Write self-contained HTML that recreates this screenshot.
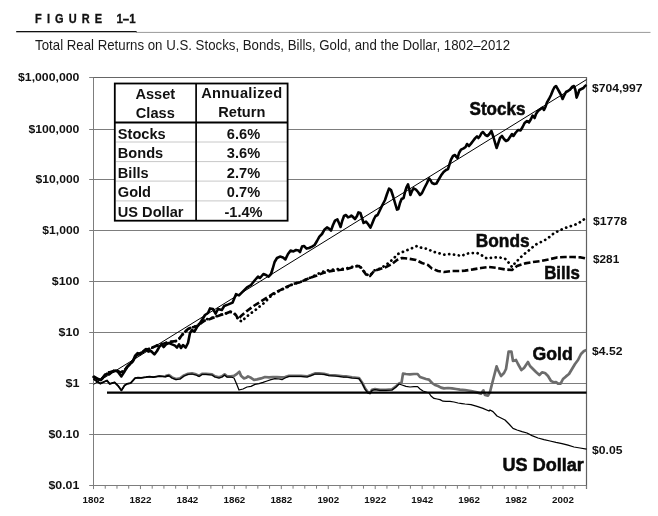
<!DOCTYPE html>
<html><head><meta charset="utf-8"><title>Figure 1-1</title>
<style>
html,body{margin:0;padding:0;background:#fff;}
body{width:658px;height:516px;overflow:hidden;position:relative;font-family:"Liberation Sans",sans-serif;}
</style></head><body>
<svg width="658" height="516" viewBox="0 0 658 516" style="position:absolute;left:0;top:0;will-change:transform;opacity:0.999;font-family:'Liberation Sans',sans-serif">
<rect width="658" height="516" fill="#fff"/>
<text transform="translate(35.1,23.1) scale(0.82,1)" font-size="13.4" font-weight="bold" fill="#111" letter-spacing="6.2" stroke="#111" stroke-width="0.35">FIGURE</text>
<text transform="translate(116.4,23.1) scale(0.82,1)" font-size="13.4" font-weight="bold" fill="#111" textLength="23.3" lengthAdjust="spacingAndGlyphs" stroke="#111" stroke-width="0.35">1–1</text>
<rect x="136" y="31.9" width="514.5" height="1" fill="#9a9a9a"/>
<rect x="16.2" y="31.0" width="120.4" height="1.3" fill="#111"/>
<text x="35.1" y="50.3" font-size="14.3" fill="#1a1a1a" textLength="475" lengthAdjust="spacingAndGlyphs">Total Real Returns on U.S. Stocks, Bonds, Bills, Gold, and the Dollar, 1802–2012</text>
<line x1="89.2" y1="77.50" x2="586.5" y2="77.50" stroke="#7d7d7d" stroke-width="1"/>
<line x1="89.2" y1="129.50" x2="586.5" y2="129.50" stroke="#7d7d7d" stroke-width="1"/>
<line x1="89.2" y1="179.50" x2="586.5" y2="179.50" stroke="#7d7d7d" stroke-width="1"/>
<line x1="89.2" y1="230.50" x2="586.5" y2="230.50" stroke="#7d7d7d" stroke-width="1"/>
<line x1="89.2" y1="281.50" x2="586.5" y2="281.50" stroke="#7d7d7d" stroke-width="1"/>
<line x1="89.2" y1="332.50" x2="586.5" y2="332.50" stroke="#7d7d7d" stroke-width="1"/>
<line x1="89.2" y1="383.50" x2="586.5" y2="383.50" stroke="#7d7d7d" stroke-width="1"/>
<line x1="89.2" y1="434.50" x2="586.5" y2="434.50" stroke="#7d7d7d" stroke-width="1"/>
<line x1="89.2" y1="485.50" x2="586.5" y2="485.50" stroke="#7d7d7d" stroke-width="1"/>
<line x1="93.5" y1="77.50" x2="93.5" y2="485.50" stroke="#7d7d7d" stroke-width="1"/>
<line x1="586.5" y1="77.00" x2="586.5" y2="489.00" stroke="#606060" stroke-width="1.2"/>
<line x1="93.5" y1="77.50" x2="587.0" y2="77.50" stroke="#666" stroke-width="1.1"/>
<line x1="93.50" y1="485.50" x2="93.50" y2="489.10" stroke="#7d7d7d" stroke-width="1"/>
<line x1="105.24" y1="485.50" x2="105.24" y2="488.70" stroke="#7d7d7d" stroke-width="1"/>
<line x1="116.98" y1="485.50" x2="116.98" y2="488.70" stroke="#7d7d7d" stroke-width="1"/>
<line x1="128.71" y1="485.50" x2="128.71" y2="488.70" stroke="#7d7d7d" stroke-width="1"/>
<line x1="140.45" y1="485.50" x2="140.45" y2="489.10" stroke="#7d7d7d" stroke-width="1"/>
<line x1="152.19" y1="485.50" x2="152.19" y2="488.70" stroke="#7d7d7d" stroke-width="1"/>
<line x1="163.93" y1="485.50" x2="163.93" y2="488.70" stroke="#7d7d7d" stroke-width="1"/>
<line x1="175.67" y1="485.50" x2="175.67" y2="488.70" stroke="#7d7d7d" stroke-width="1"/>
<line x1="187.40" y1="485.50" x2="187.40" y2="489.10" stroke="#7d7d7d" stroke-width="1"/>
<line x1="199.14" y1="485.50" x2="199.14" y2="488.70" stroke="#7d7d7d" stroke-width="1"/>
<line x1="210.88" y1="485.50" x2="210.88" y2="488.70" stroke="#7d7d7d" stroke-width="1"/>
<line x1="222.62" y1="485.50" x2="222.62" y2="488.70" stroke="#7d7d7d" stroke-width="1"/>
<line x1="234.36" y1="485.50" x2="234.36" y2="489.10" stroke="#7d7d7d" stroke-width="1"/>
<line x1="246.10" y1="485.50" x2="246.10" y2="488.70" stroke="#7d7d7d" stroke-width="1"/>
<line x1="257.83" y1="485.50" x2="257.83" y2="488.70" stroke="#7d7d7d" stroke-width="1"/>
<line x1="269.57" y1="485.50" x2="269.57" y2="488.70" stroke="#7d7d7d" stroke-width="1"/>
<line x1="281.31" y1="485.50" x2="281.31" y2="489.10" stroke="#7d7d7d" stroke-width="1"/>
<line x1="293.05" y1="485.50" x2="293.05" y2="488.70" stroke="#7d7d7d" stroke-width="1"/>
<line x1="304.79" y1="485.50" x2="304.79" y2="488.70" stroke="#7d7d7d" stroke-width="1"/>
<line x1="316.52" y1="485.50" x2="316.52" y2="488.70" stroke="#7d7d7d" stroke-width="1"/>
<line x1="328.26" y1="485.50" x2="328.26" y2="489.10" stroke="#7d7d7d" stroke-width="1"/>
<line x1="340.00" y1="485.50" x2="340.00" y2="488.70" stroke="#7d7d7d" stroke-width="1"/>
<line x1="351.74" y1="485.50" x2="351.74" y2="488.70" stroke="#7d7d7d" stroke-width="1"/>
<line x1="363.48" y1="485.50" x2="363.48" y2="488.70" stroke="#7d7d7d" stroke-width="1"/>
<line x1="375.21" y1="485.50" x2="375.21" y2="489.10" stroke="#7d7d7d" stroke-width="1"/>
<line x1="386.95" y1="485.50" x2="386.95" y2="488.70" stroke="#7d7d7d" stroke-width="1"/>
<line x1="398.69" y1="485.50" x2="398.69" y2="488.70" stroke="#7d7d7d" stroke-width="1"/>
<line x1="410.43" y1="485.50" x2="410.43" y2="488.70" stroke="#7d7d7d" stroke-width="1"/>
<line x1="422.17" y1="485.50" x2="422.17" y2="489.10" stroke="#7d7d7d" stroke-width="1"/>
<line x1="433.90" y1="485.50" x2="433.90" y2="488.70" stroke="#7d7d7d" stroke-width="1"/>
<line x1="445.64" y1="485.50" x2="445.64" y2="488.70" stroke="#7d7d7d" stroke-width="1"/>
<line x1="457.38" y1="485.50" x2="457.38" y2="488.70" stroke="#7d7d7d" stroke-width="1"/>
<line x1="469.12" y1="485.50" x2="469.12" y2="489.10" stroke="#7d7d7d" stroke-width="1"/>
<line x1="480.86" y1="485.50" x2="480.86" y2="488.70" stroke="#7d7d7d" stroke-width="1"/>
<line x1="492.60" y1="485.50" x2="492.60" y2="488.70" stroke="#7d7d7d" stroke-width="1"/>
<line x1="504.33" y1="485.50" x2="504.33" y2="488.70" stroke="#7d7d7d" stroke-width="1"/>
<line x1="516.07" y1="485.50" x2="516.07" y2="489.10" stroke="#7d7d7d" stroke-width="1"/>
<line x1="527.81" y1="485.50" x2="527.81" y2="488.70" stroke="#7d7d7d" stroke-width="1"/>
<line x1="539.55" y1="485.50" x2="539.55" y2="488.70" stroke="#7d7d7d" stroke-width="1"/>
<line x1="551.29" y1="485.50" x2="551.29" y2="488.70" stroke="#7d7d7d" stroke-width="1"/>
<line x1="563.02" y1="485.50" x2="563.02" y2="489.10" stroke="#7d7d7d" stroke-width="1"/>
<line x1="574.76" y1="485.50" x2="574.76" y2="488.70" stroke="#7d7d7d" stroke-width="1"/>
<line x1="586.50" y1="485.50" x2="586.50" y2="488.70" stroke="#7d7d7d" stroke-width="1"/>
<text x="93.5" y="503.3" font-size="9.9" font-weight="bold" text-anchor="middle" textLength="21.8" lengthAdjust="spacingAndGlyphs" fill="#111">1802</text>
<text x="140.5" y="503.3" font-size="9.9" font-weight="bold" text-anchor="middle" textLength="21.8" lengthAdjust="spacingAndGlyphs" fill="#111">1822</text>
<text x="187.4" y="503.3" font-size="9.9" font-weight="bold" text-anchor="middle" textLength="21.8" lengthAdjust="spacingAndGlyphs" fill="#111">1842</text>
<text x="234.4" y="503.3" font-size="9.9" font-weight="bold" text-anchor="middle" textLength="21.8" lengthAdjust="spacingAndGlyphs" fill="#111">1862</text>
<text x="281.3" y="503.3" font-size="9.9" font-weight="bold" text-anchor="middle" textLength="21.8" lengthAdjust="spacingAndGlyphs" fill="#111">1882</text>
<text x="328.3" y="503.3" font-size="9.9" font-weight="bold" text-anchor="middle" textLength="21.8" lengthAdjust="spacingAndGlyphs" fill="#111">1902</text>
<text x="375.2" y="503.3" font-size="9.9" font-weight="bold" text-anchor="middle" textLength="21.8" lengthAdjust="spacingAndGlyphs" fill="#111">1922</text>
<text x="422.2" y="503.3" font-size="9.9" font-weight="bold" text-anchor="middle" textLength="21.8" lengthAdjust="spacingAndGlyphs" fill="#111">1942</text>
<text x="469.1" y="503.3" font-size="9.9" font-weight="bold" text-anchor="middle" textLength="21.8" lengthAdjust="spacingAndGlyphs" fill="#111">1962</text>
<text x="516.1" y="503.3" font-size="9.9" font-weight="bold" text-anchor="middle" textLength="21.8" lengthAdjust="spacingAndGlyphs" fill="#111">1982</text>
<text x="563.0" y="503.3" font-size="9.9" font-weight="bold" text-anchor="middle" textLength="21.8" lengthAdjust="spacingAndGlyphs" fill="#111">2002</text>
<text x="18.0" y="81.2" font-size="11.6" font-weight="bold" textLength="61.4" lengthAdjust="spacingAndGlyphs" fill="#111">$1,000,000</text>
<text x="28.4" y="133.2" font-size="11.6" font-weight="bold" textLength="51.0" lengthAdjust="spacingAndGlyphs" fill="#111">$100,000</text>
<text x="35.6" y="183.2" font-size="11.6" font-weight="bold" textLength="43.8" lengthAdjust="spacingAndGlyphs" fill="#111">$10,000</text>
<text x="42.3" y="234.2" font-size="11.6" font-weight="bold" textLength="37.1" lengthAdjust="spacingAndGlyphs" fill="#111">$1,000</text>
<text x="51.8" y="285.2" font-size="11.6" font-weight="bold" textLength="27.6" lengthAdjust="spacingAndGlyphs" fill="#111">$100</text>
<text x="58.6" y="336.2" font-size="11.6" font-weight="bold" textLength="20.8" lengthAdjust="spacingAndGlyphs" fill="#111">$10</text>
<text x="65.4" y="387.2" font-size="11.6" font-weight="bold" textLength="14.0" lengthAdjust="spacingAndGlyphs" fill="#111">$1</text>
<text x="48.4" y="438.2" font-size="11.6" font-weight="bold" textLength="31.0" lengthAdjust="spacingAndGlyphs" fill="#111">$0.10</text>
<text x="48.4" y="489.2" font-size="11.6" font-weight="bold" textLength="31.0" lengthAdjust="spacingAndGlyphs" fill="#111">$0.01</text>
<path d="M165.4 376.0 L169.0 375.1 L172.0 377.4 L176.0 379.0 L180.0 378.4 L184.0 375.4 L188.0 373.8 L192.0 373.4 L196.0 374.4 L199.0 375.8 L202.0 373.8 L206.0 373.8 L212.0 374.4 L215.0 376.4 L219.0 377.4 L222.0 376.4 L224.6 374.4 L227.0 376.4 L231.0 376.4 L234.0 375.8 L237.0 373.8 L239.4 371.8 L241.0 375.8 L244.0 378.4 L246.0 377.8 L248.0 376.4 L251.0 377.8 L254.0 379.8 L257.0 379.4 L261.0 378.4 L265.0 377.0 L269.0 377.4 L273.0 377.0 L277.0 377.0 L281.0 377.4 L285.0 377.0 L289.0 375.8 L295.0 375.8 L301.0 375.8 L307.0 376.4 L311.0 375.0 L315.0 373.4 L319.0 373.4 L324.0 373.8 L329.0 375.0 L335.0 375.4 L339.0 375.8 L343.0 376.4 L346.0 376.4 L352.0 377.4 L359.0 378.0 L362.0 382.4 L365.0 388.4 L368.0 392.4 L370.0 393.0 L372.0 389.8 L375.0 389.0 L380.0 389.8 L386.0 389.8 L392.0 389.4 L396.0 386.4 L399.0 383.4 L401.6 382.4 L403.0 373.6 L406.0 374.0 L410.0 374.4 L414.0 374.0 L417.6 374.0 L420.0 377.0 L423.0 378.0 L426.0 379.0 L429.0 379.6 L432.0 383.0 L435.0 385.0 L438.0 386.0 L441.0 387.6 L444.0 388.4 L448.0 388.0 L452.0 388.4 L456.0 389.0 L460.0 389.6 L465.0 390.0 L471.0 391.0 L477.0 392.4 L481.0 393.6 L483.4 390.4 L485.0 395.0 L488.0 395.6 L490.0 392.0 L492.0 384.0 L494.6 374.0 L496.6 366.4 L498.0 370.0 L501.0 376.0 L504.0 373.0 L506.0 369.0 L507.4 360.0 L508.6 351.6 L511.4 351.6 L513.0 361.0 L516.0 360.0 L518.0 364.0 L521.4 370.0 L524.0 368.0 L526.0 365.0 L528.0 362.0 L530.0 366.0 L533.0 369.0 L536.0 372.0 L539.4 375.0 L542.0 372.4 L545.0 373.0 L548.0 376.0 L551.0 381.0 L554.0 382.4 L556.0 382.0 L558.0 383.6 L560.6 383.6 L563.0 379.0 L566.0 376.4 L569.0 374.0 L572.0 369.0 L575.0 364.0 L578.0 360.0 L581.0 354.0 L584.0 351.0 L586.6 350.0" fill="none" stroke="#6c6c6c" stroke-width="2.7" stroke-linejoin="round"/>
<path d="M93.5 379.0 L100.2 383.6 L107.0 380.5 L109.7 383.9 L114.6 382.4 L118.4 386.2 L121.4 390.4 L124.5 385.5 L126.8 383.9 L130.6 383.2 L135.1 378.2 L138.0 377.6 L141.1 377.8 L145.9 377.2 L149.6 376.6 L153.2 377.2 L159.3 376.2 L165.4 376.6 L169.0 375.7 L172.0 378.0 L176.0 379.6 L180.0 379.0 L184.0 376.0 L188.0 374.4 L192.0 374.0 L196.0 375.0 L199.0 376.4 L202.0 374.4 L206.0 374.4 L212.0 375.0 L215.0 377.0 L219.0 378.0 L222.0 377.0 L224.6 375.0 L227.0 377.0 L231.0 377.0 L234.0 378.0 L236.6 384.0 L239.0 390.0 L243.0 389.0 L247.0 387.0 L251.0 386.4 L255.0 384.4 L259.0 383.6 L263.0 382.4 L267.0 381.0 L271.0 379.6 L275.0 378.6 L279.0 379.0 L282.0 379.6 L285.0 378.0 L289.0 376.4 L295.0 376.4 L301.0 376.4 L307.0 377.0 L311.0 375.6 L315.0 374.0 L319.0 374.0 L324.0 374.4 L329.0 375.6 L335.0 376.0 L339.0 376.4 L343.0 377.0 L346.0 377.0 L352.0 378.0 L359.0 378.6 L362.0 383.0 L365.0 389.0 L368.0 393.0 L370.0 393.6 L372.0 390.4 L375.0 389.6 L380.0 390.4 L386.0 390.4 L392.0 390.0 L396.0 387.0 L399.0 384.0 L402.0 385.0 L406.0 386.4 L410.0 387.0 L414.0 386.6 L417.6 386.6 L420.0 389.0 L423.0 391.0 L426.0 392.0 L429.0 393.0 L431.0 396.0 L434.0 398.4 L437.0 399.0 L440.0 399.6 L443.0 401.2 L446.0 401.4 L450.0 401.4 L454.0 402.0 L458.0 403.0 L462.0 403.6 L465.0 404.0 L471.0 404.6 L477.0 406.4 L483.0 408.4 L489.0 411.0 L490.0 410.0 L493.0 411.6 L497.0 416.0 L501.0 418.0 L505.0 420.0 L509.0 424.0 L513.0 428.4 L517.0 430.0 L522.0 431.6 L527.0 433.0 L532.0 435.6 L538.0 438.0 L544.0 439.6 L550.0 441.0 L556.0 442.4 L562.0 443.6 L568.0 445.2 L574.0 447.0 L580.0 448.0 L586.6 449.2" fill="none" stroke="#000" stroke-width="1.25" stroke-linejoin="round"/>
<path d="M93.5 379.0 L100.2 383.6 L107.0 380.5 L109.7 383.9 L114.6 382.4 L118.4 386.2 L121.4 390.4 L124.5 385.5 L126.8 383.9 L130.6 383.2 L135.1 378.2 L138.0 377.6 L141.1 377.8 L145.9 377.2 L149.6 376.6 L153.2 377.2 L159.3 376.2 L165.4 376.6 L169.0 375.7" fill="none" stroke="#000" stroke-width="1.8" stroke-linejoin="round"/>
<line x1="107" y1="392.6" x2="586.5" y2="392.6" stroke="#000" stroke-width="2.2"/>
<path d="M93.6 377.0 L97.0 379.0 L101.0 380.0 L104.0 376.0 L107.0 373.0 L112.0 371.6 L116.0 370.0 L120.0 372.4 L124.0 371.0 L128.0 366.0 L132.0 362.0 L137.0 355.0 L142.0 352.4 L147.0 349.6 L152.0 347.6 L156.0 346.0 L160.0 344.4 L164.0 343.6 L168.0 342.4 L172.0 341.6 L176.0 341.0 L179.0 339.0 L182.0 335.0 L185.0 332.0 L188.0 329.0 L191.0 327.6 L194.0 327.0 L197.0 326.0 L199.6 324.4 L202.0 322.4 L205.0 320.4 L210.0 319.0 L215.0 317.2 L220.0 315.2 L223.5 314.3 L230.2 311.8 L233.5 312.6 L236.0 315.2 L238.2 319.3 L241.0 316.0 L246.9 311.0 L253.6 306.0 L260.3 301.8 L267.0 297.6 L273.6 293.4 L280.3 290.1 L287.0 286.7 L290.0 285.4 L293.0 284.0 L299.0 282.6 L305.0 280.0 L311.0 277.4 L317.0 275.4 L323.0 273.0 L329.0 271.4 L335.0 270.4 L341.0 269.8 L347.0 269.0 L351.0 267.8 L354.0 266.6 L359.0 266.0 L362.0 269.0 L366.0 274.6 L370.0 276.0 L374.0 271.0 L380.0 269.0 L386.0 267.0 L392.0 264.0 L397.0 260.0 L402.0 258.0 L408.0 258.6 L416.0 260.0 L422.0 263.0 L428.0 265.0 L432.0 268.6 L438.0 271.0 L444.0 272.0 L452.0 271.0 L460.0 271.0 L465.0 270.6 L473.0 269.4 L481.0 268.0 L489.0 267.0 L497.0 268.0 L505.0 269.4 L512.0 270.0 L517.0 266.0 L525.0 263.4 L533.0 262.0 L541.0 261.0 L549.0 259.4 L557.0 257.4 L565.0 257.0 L573.0 257.0 L581.0 257.4 L586.4 258.6" fill="none" stroke="#000" stroke-width="2.6" stroke-dasharray="6.6 2.6" stroke-linejoin="round"/>
<path d="M93.6 377.0 L97.0 379.0 L101.0 380.0 L104.0 376.0 L107.0 373.0 L112.0 371.6 L116.0 370.0 L120.0 372.4 L124.0 371.0 L128.0 366.0 L132.0 362.0 L137.0 355.0 L142.0 352.4 L147.0 349.6 L152.0 347.6 L156.0 346.0 L160.0 344.4 L164.0 343.6 L168.0 342.4 L172.0 341.6 L176.0 341.0 L179.0 339.0 L182.0 335.0 L185.0 332.0 L188.0 329.0 L191.0 327.6 L194.0 327.0 L197.0 325.6 L199.6 323.6 L202.0 321.6 L205.0 319.6 L210.0 318.4 L215.0 316.8 L220.0 314.8 L223.5 314.3 L230.2 311.8 L233.5 312.6 L236.0 315.2 L238.5 320.2 L242.2 321.5 L245.2 317.7 L250.2 313.8 L255.3 310.1 L260.3 306.0 L263.6 303.4 L267.0 300.1 L271.1 295.9 L277.0 292.1 L283.7 288.7 L290.0 285.9 L293.0 284.0 L299.0 282.6 L305.0 280.0 L311.0 277.4 L317.0 274.2 L323.0 271.6 L329.0 270.2 L335.0 269.4 L341.0 269.0 L347.0 268.2 L351.0 267.2 L354.0 266.2 L359.0 265.6 L362.0 268.6 L366.0 274.2 L370.0 275.6 L374.0 270.6 L380.0 268.6 L386.0 265.0 L392.0 260.0 L398.0 254.0 L404.0 251.4 L410.0 249.0 L417.0 246.0 L422.0 248.0 L428.0 249.0 L432.0 251.4 L438.0 253.0 L444.0 254.6 L450.0 254.0 L456.0 255.0 L462.0 256.0 L465.0 254.0 L471.0 253.0 L477.0 253.0 L483.0 256.0 L487.0 258.6 L493.0 257.4 L499.0 257.4 L505.0 258.6 L509.0 263.0 L512.0 267.0 L515.0 263.0 L519.0 259.0 L523.0 255.0 L527.0 252.0 L531.0 248.6 L535.0 245.0 L541.0 242.0 L547.0 239.0 L553.0 234.0 L559.0 230.6 L565.0 228.0 L571.0 226.0 L577.0 224.0 L582.0 221.0 L586.4 217.4" fill="none" stroke="#000" stroke-width="2.75" stroke-dasharray="0.1 4.8" stroke-linecap="round" stroke-linejoin="round"/>
<line x1="93.5" y1="384.4" x2="586.5" y2="79.6" stroke="#000" stroke-width="1"/>
<path d="M93.5 376.3 L97.0 378.4 L100.9 380.1 L103.6 377.0 L107.0 373.6 L109.0 374.4 L112.0 372.0 L116.0 370.6 L118.0 372.0 L121.4 376.4 L124.0 372.4 L127.0 367.0 L130.0 364.0 L133.0 361.0 L135.0 356.0 L137.6 353.2 L140.0 354.4 L143.0 351.6 L146.0 349.0 L148.4 351.6 L151.0 351.0 L154.4 354.4 L157.0 351.0 L159.6 346.4 L161.6 344.4 L163.6 347.0 L166.0 344.4 L169.0 343.0 L172.0 344.4 L175.0 345.6 L177.0 347.6 L179.0 344.4 L181.0 348.0 L183.0 345.0 L185.6 347.6 L188.0 343.0 L190.0 333.0 L192.0 330.0 L194.4 331.6 L197.0 327.0 L199.6 324.0 L202.0 320.0 L205.0 315.0 L208.0 313.0 L210.0 308.4 L213.0 309.0 L215.6 313.6 L218.0 309.0 L221.8 310.0 L224.2 306.0 L228.4 304.4 L232.6 302.6 L236.0 294.2 L239.0 295.4 L243.0 291.4 L247.0 287.4 L251.0 285.0 L255.0 280.0 L258.0 276.6 L260.0 278.0 L263.4 274.0 L266.0 275.0 L268.6 276.6 L271.0 274.0 L272.6 269.0 L274.6 262.0 L277.0 258.0 L280.0 256.6 L283.0 257.4 L285.4 259.4 L288.0 254.0 L290.6 250.6 L293.4 251.4 L296.0 250.0 L298.6 250.6 L300.0 252.0 L302.0 246.6 L304.0 246.0 L306.6 248.6 L309.0 248.0 L312.0 246.6 L314.6 245.0 L317.0 241.0 L319.4 236.6 L322.0 234.0 L324.6 229.4 L327.0 227.4 L329.0 228.6 L331.0 230.6 L333.0 225.0 L335.0 220.6 L337.4 219.4 L339.4 224.0 L340.6 227.0 L342.2 221.0 L344.0 216.0 L346.0 215.0 L348.0 217.4 L350.0 216.6 L351.4 215.6 L352.0 216.0 L355.0 219.0 L357.0 216.0 L358.4 212.4 L360.4 213.0 L362.0 218.0 L363.6 223.0 L366.0 221.6 L368.0 224.0 L370.4 227.6 L372.0 224.0 L374.0 219.0 L375.6 216.0 L377.6 215.0 L380.0 210.0 L382.4 205.0 L385.0 200.0 L387.0 194.0 L389.0 188.6 L391.0 190.0 L393.0 196.0 L395.0 203.0 L397.0 209.6 L398.4 209.0 L400.0 203.0 L401.6 199.0 L403.6 198.0 L405.0 192.0 L406.6 187.0 L408.0 184.4 L409.2 189.0 L410.4 195.0 L412.0 191.0 L413.6 188.4 L416.0 189.6 L418.0 192.0 L420.0 195.0 L422.0 193.0 L424.4 188.0 L427.0 183.0 L429.0 178.4 L430.4 180.0 L432.0 183.0 L434.4 184.0 L436.4 183.6 L438.4 180.0 L441.0 175.6 L443.6 172.0 L446.0 170.0 L448.0 169.0 L449.6 164.0 L451.0 159.6 L453.0 156.0 L455.0 155.0 L456.4 157.0 L457.6 158.0 L459.0 153.0 L461.0 149.6 L463.6 148.4 L465.6 147.0 L467.0 144.0 L469.0 146.0 L471.0 143.6 L473.0 141.0 L475.0 138.4 L477.0 136.4 L478.4 138.0 L480.0 136.0 L481.6 133.0 L482.6 132.2 L483.0 132.0 L485.4 135.0 L487.4 136.0 L489.4 134.0 L491.4 131.0 L493.4 137.0 L495.4 144.0 L496.6 148.0 L498.0 144.0 L500.0 138.0 L502.0 136.0 L504.0 139.0 L506.0 141.0 L508.0 140.0 L510.0 137.0 L512.0 134.0 L513.4 136.0 L515.4 133.0 L518.0 130.0 L520.6 130.4 L522.6 127.0 L524.6 123.0 L527.0 121.0 L529.0 122.4 L531.0 119.0 L532.6 115.6 L534.6 118.0 L536.0 114.0 L538.0 111.0 L540.6 109.0 L542.6 107.6 L544.0 110.0 L545.4 107.0 L547.0 102.4 L549.0 99.0 L551.0 95.0 L553.0 90.0 L554.6 87.0 L556.0 86.0 L557.4 88.4 L559.4 92.0 L561.0 95.0 L562.6 99.0 L564.0 96.0 L566.0 92.0 L568.0 91.0 L570.0 89.6 L572.0 87.0 L574.0 86.0 L575.4 90.0 L576.6 97.6 L578.0 94.0 L579.4 90.0 L581.4 89.0 L583.4 88.0 L585.0 86.0 L586.6 85.0" fill="none" stroke="#000" stroke-width="2.6" stroke-linejoin="round"/>
<rect x="114.8" y="83.5" width="172.8" height="137.2" fill="#fff"/>
<line x1="116" y1="142.0" x2="287" y2="142.0" stroke="#c8c8c8" stroke-width="1"/>
<line x1="116" y1="161.6" x2="287" y2="161.6" stroke="#c8c8c8" stroke-width="1"/>
<line x1="116" y1="181.1" x2="287" y2="181.1" stroke="#c8c8c8" stroke-width="1"/>
<line x1="116" y1="200.9" x2="287" y2="200.9" stroke="#c8c8c8" stroke-width="1"/>
<rect x="114.8" y="83.5" width="172.8" height="137.2" fill="none" stroke="#000" stroke-width="1.8"/>
<line x1="196.1" y1="83.5" x2="196.1" y2="220.7" stroke="#000" stroke-width="1.7"/>
<line x1="114.8" y1="122.4" x2="287.6" y2="122.4" stroke="#000" stroke-width="2"/>
<text x="155.3" y="99.3" text-anchor="middle" font-size="14.6" font-weight="bold" fill="#111">Asset</text>
<text x="155.3" y="118.3" text-anchor="middle" font-size="14.6" font-weight="bold" fill="#111">Class</text>
<text x="201.2" y="97.8" textLength="81" lengthAdjust="spacing" font-size="14.6" font-weight="bold" fill="#111">Annualized</text>
<text x="241.8" y="116.8" text-anchor="middle" font-size="14.6" font-weight="bold" fill="#111">Return</text>
<text x="117.8" y="138.7" font-size="14.6" font-weight="bold" fill="#111">Stocks</text>
<text x="243.5" y="138.7" text-anchor="middle" font-size="14.6" font-weight="bold" fill="#111">6.6%</text>
<text x="117.8" y="158.1" font-size="14.6" font-weight="bold" fill="#111">Bonds</text>
<text x="243.5" y="158.1" text-anchor="middle" font-size="14.6" font-weight="bold" fill="#111">3.6%</text>
<text x="117.8" y="177.6" font-size="14.6" font-weight="bold" fill="#111">Bills</text>
<text x="243.5" y="177.6" text-anchor="middle" font-size="14.6" font-weight="bold" fill="#111">2.7%</text>
<text x="117.8" y="197.0" font-size="14.6" font-weight="bold" fill="#111">Gold</text>
<text x="243.5" y="197.0" text-anchor="middle" font-size="14.6" font-weight="bold" fill="#111">0.7%</text>
<text x="117.8" y="216.5" font-size="14.6" font-weight="bold" fill="#111">US Dollar</text>
<text x="243.5" y="216.5" text-anchor="middle" font-size="14.6" font-weight="bold" fill="#111">-1.4%</text>
<text x="469.5" y="115.0" textLength="56.0" font-size="18.9" font-weight="bold" fill="#0a0a0a" stroke="#0a0a0a" stroke-width="0.55" lengthAdjust="spacingAndGlyphs">Stocks</text>
<text x="475.8" y="246.9" textLength="53.8" font-size="18.9" font-weight="bold" fill="#0a0a0a" stroke="#0a0a0a" stroke-width="0.55" lengthAdjust="spacingAndGlyphs">Bonds</text>
<text x="544.2" y="278.6" textLength="35.6" font-size="18.9" font-weight="bold" fill="#0a0a0a" stroke="#0a0a0a" stroke-width="0.55" lengthAdjust="spacingAndGlyphs">Bills</text>
<text x="532.6" y="359.6" textLength="40.2" font-size="18.9" font-weight="bold" fill="#0a0a0a" stroke="#0a0a0a" stroke-width="0.55" lengthAdjust="spacingAndGlyphs">Gold</text>
<text x="502.6" y="471.0" textLength="81.2" font-size="18.9" font-weight="bold" fill="#0a0a0a" stroke="#0a0a0a" stroke-width="0.55" lengthAdjust="spacingAndGlyphs">US Dollar</text>
<text x="592" y="92.2" textLength="50.6" font-size="11.6" font-weight="bold" fill="#111" lengthAdjust="spacingAndGlyphs">$704,997</text>
<text x="593" y="224.5" textLength="34.0" font-size="11.6" font-weight="bold" fill="#111" lengthAdjust="spacingAndGlyphs">$1778</text>
<text x="593" y="262.7" textLength="26.2" font-size="11.6" font-weight="bold" fill="#111" lengthAdjust="spacingAndGlyphs">$281</text>
<text x="592" y="355.2" textLength="30.4" font-size="11.6" font-weight="bold" fill="#111" lengthAdjust="spacingAndGlyphs">$4.52</text>
<text x="592" y="454.2" textLength="30.4" font-size="11.6" font-weight="bold" fill="#111" lengthAdjust="spacingAndGlyphs">$0.05</text>
</svg>
</body></html>
